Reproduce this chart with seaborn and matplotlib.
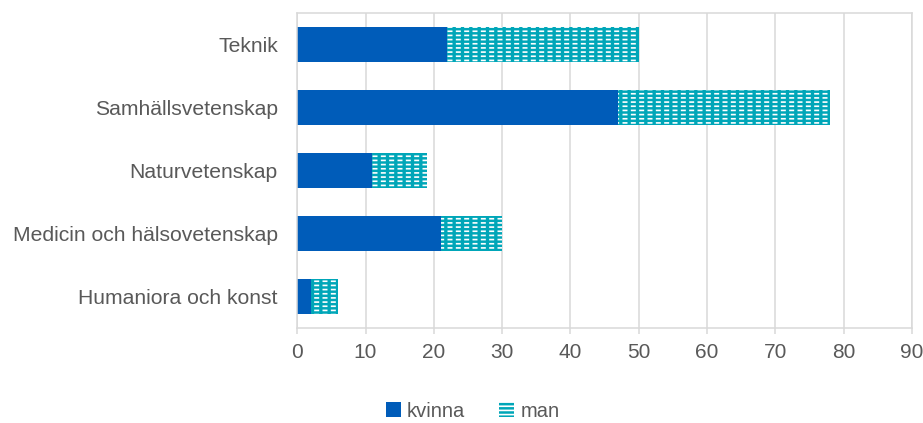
#! /usr/bin/env python3
import pandas as pd
import seaborn as sns

import matplotlib as mpl
import matplotlib.pyplot as plt
from matplotlib.patches import Patch

# data
categories = ["Teknik", "Samhällsvetenskap", "Naturvetenskap",
              "Medicin och hälsovetenskap", "Humaniora och konst"]
kvinna = [22, 47, 11, 21, 2]
man = [28, 31, 8, 9, 4]
xticks = [0, 10, 20, 30, 40, 50, 60, 70, 80, 90]

BLUE = "#005cb9"
TEAL = "#00a6b8"
GREY = "#d9d9d9"
TEXT = "#595959"


def configure_plot():
    sns.set_theme(style="whitegrid")
    plt.rcParams['font.family'] = ['Liberation Sans', 'DejaVu Sans']
    plt.rcParams['axes.edgecolor'] = GREY
    plt.rcParams['grid.color'] = GREY
    plt.rcParams['grid.linewidth'] = 1.1


def main():
    configure_plot()

    df = pd.DataFrame({"omrade": categories, "kvinna": kvinna, "man": man})
    # stacked bar: man is drawn as the total, kvinna on top of it
    df["total"] = df["kvinna"] + df["man"]

    fig = plt.figure(figsize=(9.23, 4.23), dpi=100)
    ax = fig.add_axes([0.322, 0.225, 0.666, 0.744])

    # man: teal with white dashed rows
    mpl.rcParams['hatch.linewidth'] = 1.2
    sns.barplot(data=df, y="omrade", x="total", orient="h", color=TEAL,
                saturation=1, width=0.55, hatch="----", edgecolor="white",
                linewidth=0, ax=ax)
    # break the white rows into dashes
    mpl.rcParams['hatch.linewidth'] = 2.4
    sns.barplot(data=df, y="omrade", x="total", orient="h", fill=False,
                width=0.55, hatch="||", edgecolor=TEAL, color=TEAL,
                linewidth=0, ax=ax)
    # kvinna
    sns.barplot(data=df, y="omrade", x="kvinna", orient="h", color=BLUE,
                saturation=1, width=0.55, linewidth=0, ax=ax)

    ax.set_xlim(0, 90)
    ax.set_xticks(xticks)
    ax.set(xlabel="", ylabel="")
    ax.grid(axis="y", visible=False)
    ax.grid(axis="x", visible=True)
    ax.set_axisbelow(True)
    for s in ax.spines.values():
        s.set_color(GREY)
        s.set_linewidth(1.1)
    ax.tick_params(axis="x", bottom=True, length=4, width=1.1, color=GREY,
                   labelsize=15, labelcolor=TEXT, pad=7)
    ax.tick_params(axis="y", left=False, labelsize=15.2, labelcolor=TEXT, pad=8)

    mpl.rcParams['hatch.linewidth'] = 1.2
    handles = [Patch(facecolor=BLUE, edgecolor=BLUE, linewidth=0),
               Patch(facecolor=TEAL, edgecolor="white", linewidth=0, hatch="----")]
    leg = fig.legend(handles, ["kvinna", "man"], loc="center",
                     bbox_to_anchor=(0.512, 0.028), ncol=2, frameon=False,
                     fontsize=14.5, handlelength=0.75, handleheight=0.75,
                     handletextpad=0.3, columnspacing=1.7)
    for t in leg.get_texts():
        t.set_color(TEXT)

    plt.savefig("out.png", dpi=100)


if __name__ == "__main__":
    main()
